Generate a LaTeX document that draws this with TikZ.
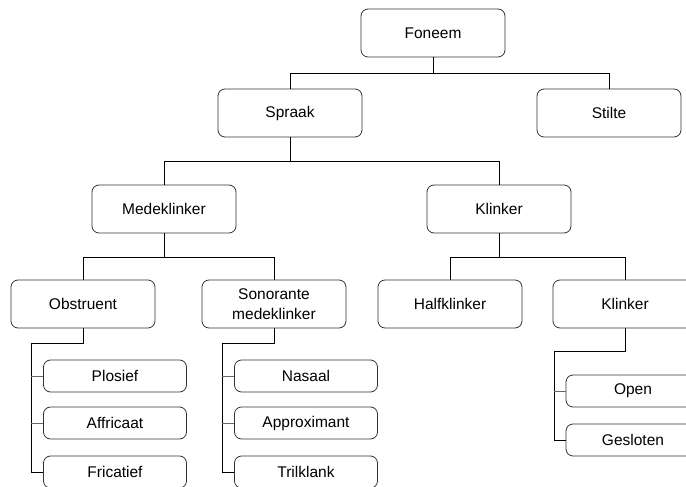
\documentclass[tikz,border=0pt]{standalone}
\usepackage{fontspec}
\setmainfont{Liberation Sans}
\usepackage{tikz}
\usetikzlibrary{calc}

\tikzset{
  box/.style={draw=black!80, line width=0.8pt, rounded corners=7pt, minimum width=144pt, minimum height=48pt, inner sep=2pt, align=center, font=\fontsize{15.5}{20}\selectfont},
  leaf/.style={box, minimum width=143pt, minimum height=32pt},
  bus/.style={line width=1pt, black},
  stub/.style={line width=0.9pt, black!60}
}

\begin{document}
\begin{tikzpicture}[x=1pt,y=-1pt]
\clip (0,0) rectangle (686,487);
% levels
\node [box] (foneem) at (433,33) {Foneem};
\node [box] (spraak) at (290,113) {Spraak};
\node [box] (stilte) at (609,113) {Stilte};
\node [box] (medeklinker) at (164,209) {Medeklinker};
\node [box] (klinker) at (499,209) {Klinker};
\node [box] (obstruent) at (83,304) {Obstruent};
\node [box] (sonorant) at (274,304) {Sonorante\\medeklinker};
\node [box] (halfklinker) at (450,304) {Halfklinker};
\node [box] (klinker2) at (625,304) {Klinker};
% leaves
\node [leaf] (plosief) at (115,376) {Plosief};
\node [leaf] (affricaat) at (115,423) {Affricaat};
\node [leaf] (fricatief) at (115,472) {Fricatief};
\node [leaf] (nasaal) at (306,376) {Nasaal};
\node [leaf] (approximant) at (306,423) {Approximant};
\node [leaf] (trilklank) at (306,472) {Trilklank};
\node [leaf, minimum width=134pt] (open) at (633,391) {Open};
\node [leaf, minimum width=134pt] (gesloten) at (633,440) {Gesloten};
% tree lines
\draw [bus] (foneem.south) -- ++(0,16) -| (spraak.north);
\draw [bus] (foneem.south) -- ++(0,16) -| (stilte.north);
\draw [bus] (spraak.south) -- ++(0,24) -| (medeklinker.north);
\draw [bus] (spraak.south) -- ++(0,24) -| (klinker.north);
\draw [bus] (medeklinker.south) -- ++(0,24) -| (obstruent.north);
\draw [bus] (medeklinker.south) -- ++(0,24) -| (sonorant.north);
\draw [bus] (klinker.south) -- ++(0,24) -| (halfklinker.north);
\draw [bus] (klinker.south) -- ++(0,24) -| (klinker2.north);
% side buses
\coordinate (obsbus) at (31,343);
\coordinate (sonbus) at (222,343);
\coordinate (klibus) at (554,351);
\draw [bus] (obstruent.south) |- (obsbus) |- (fricatief.west);
\draw [stub] (plosief.west) -- (plosief.west -| obsbus);
\draw [stub] (affricaat.west) -- (affricaat.west -| obsbus);
\draw [bus] (sonorant.south) |- (sonbus) |- (trilklank.west);
\draw [stub] (nasaal.west) -- (nasaal.west -| sonbus);
\draw [stub] (approximant.west) -- (approximant.west -| sonbus);
\draw [bus] (klinker2.south) |- (klibus) |- (gesloten.west);
\draw [stub] (open.west) -- (open.west -| klibus);
\end{tikzpicture}
\end{document}
